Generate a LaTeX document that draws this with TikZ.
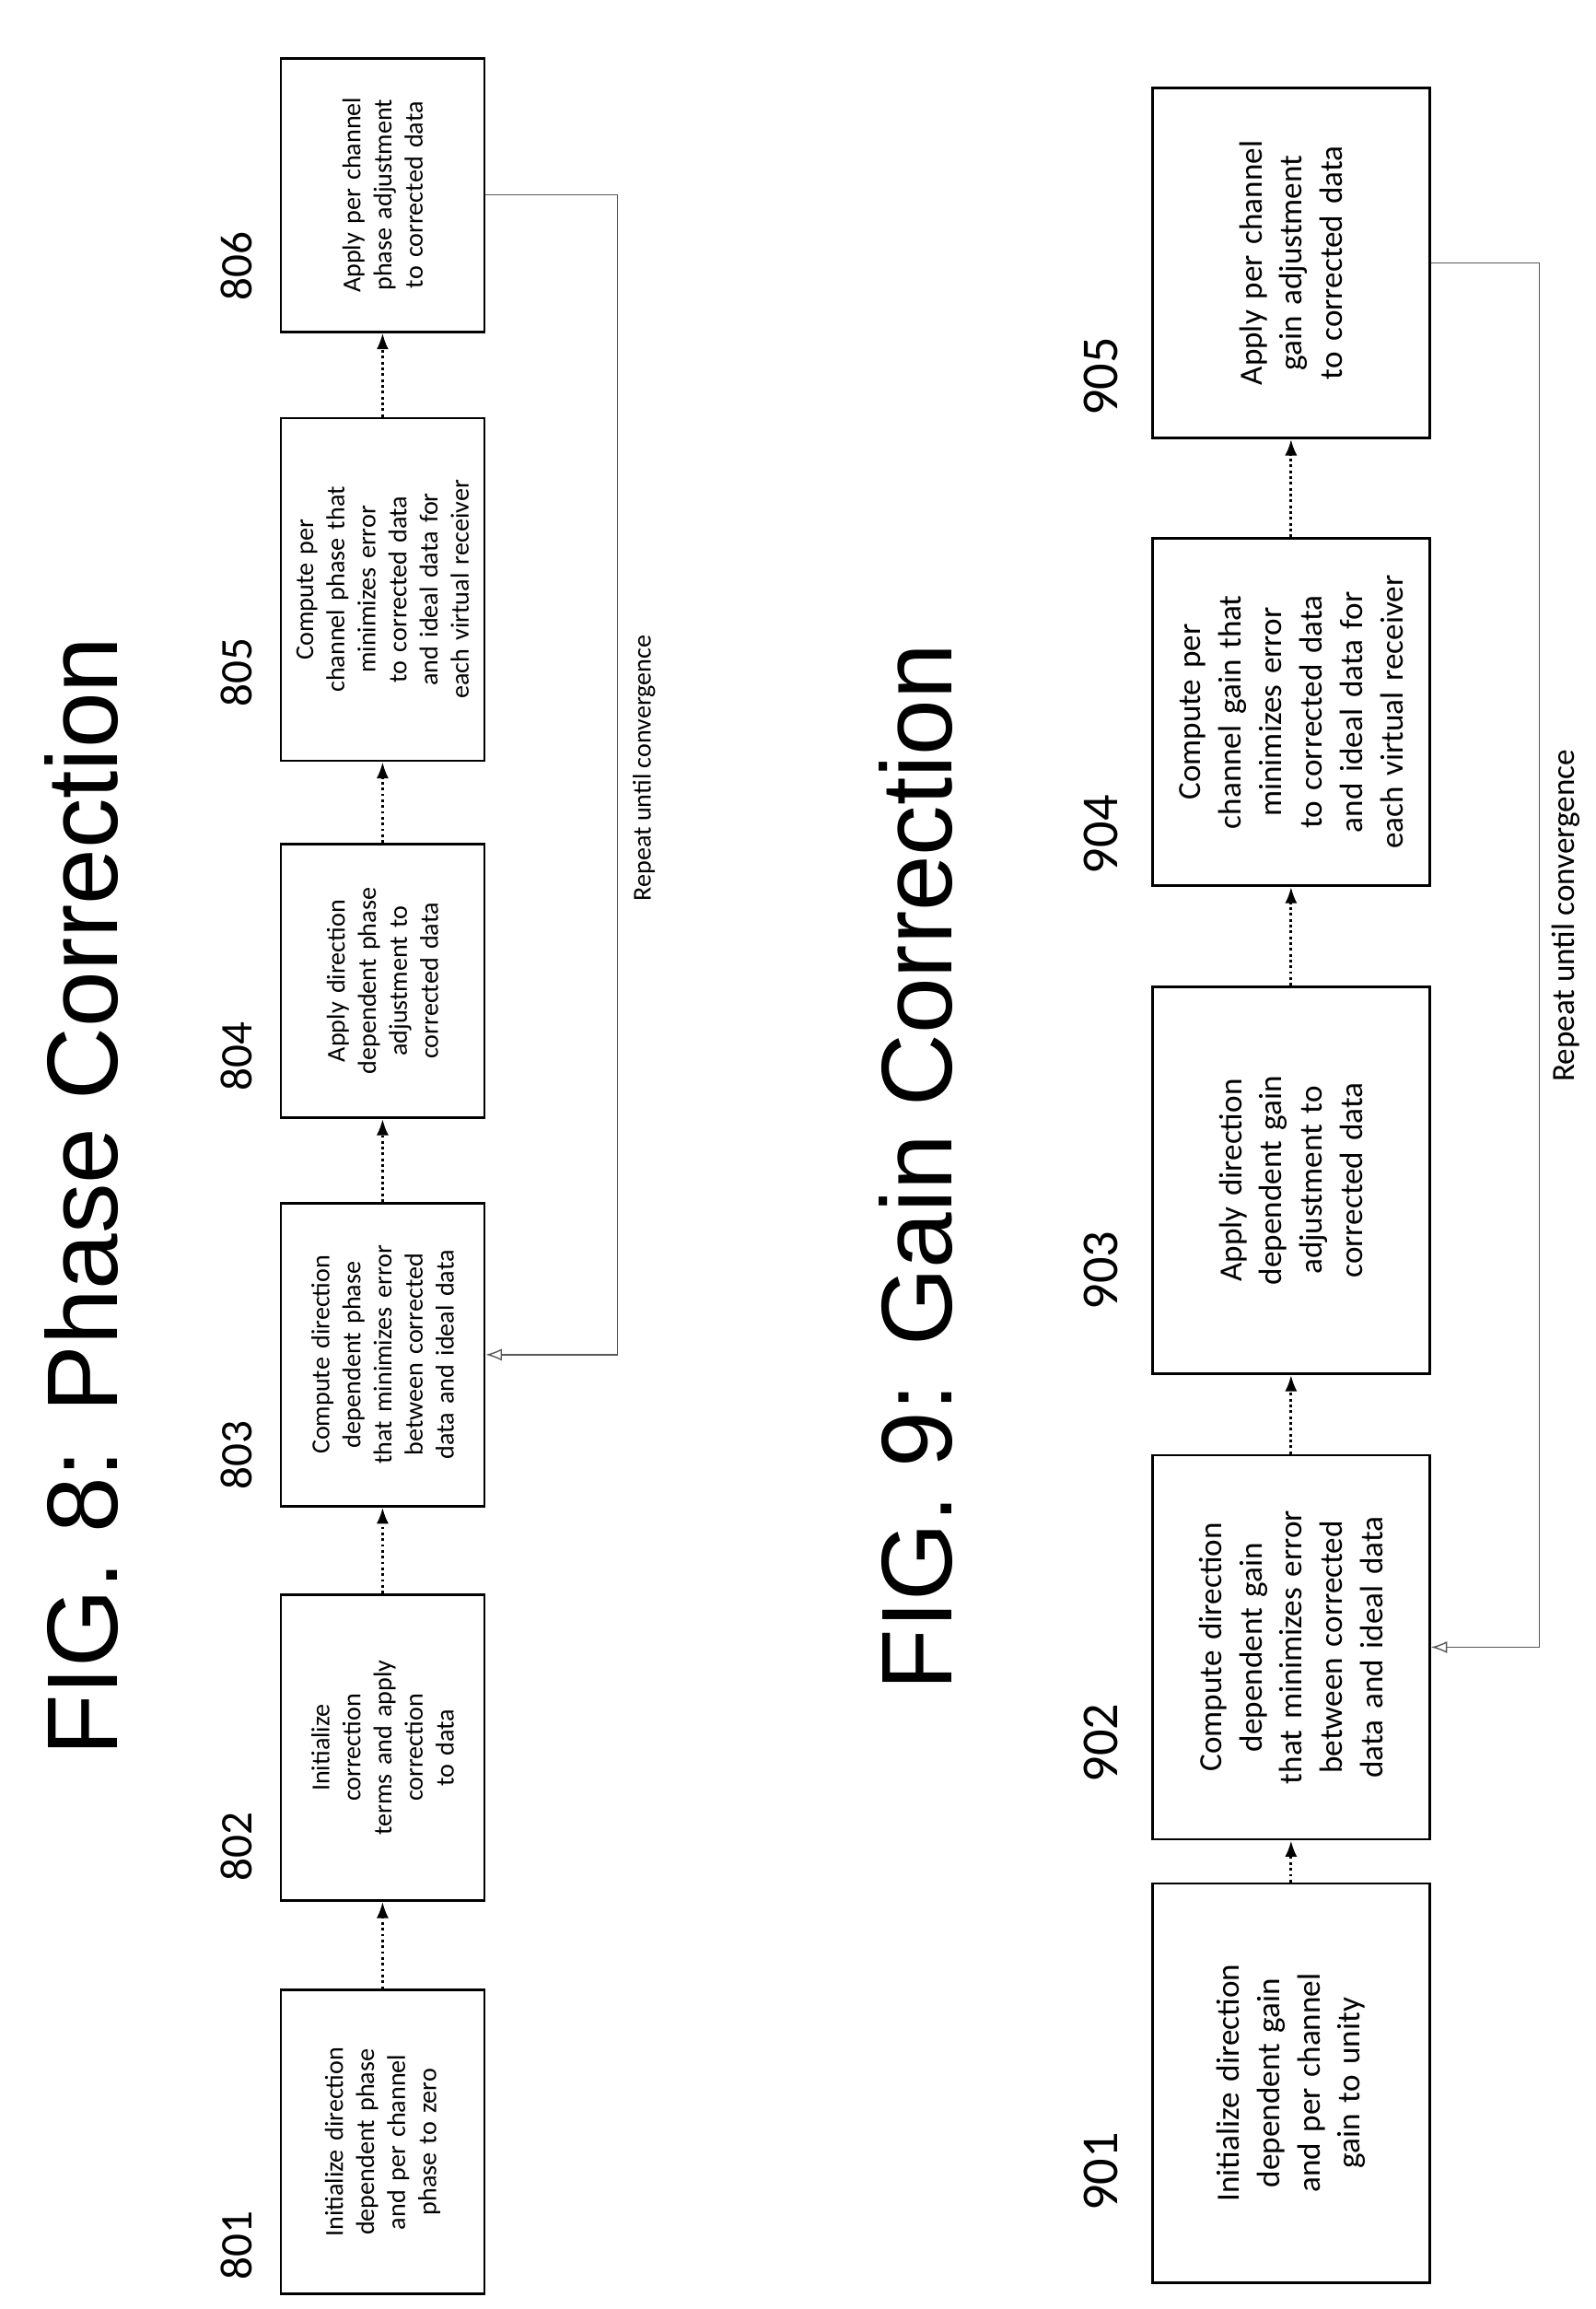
\documentclass[tikz,border=0pt]{standalone}
\usepackage{fontspec}
\setmainfont{Carlito}
\newfontfamily\titlefont{Liberation Sans}
\usetikzlibrary{arrows.meta}
\hyphenpenalty=10000
\exhyphenpenalty=10000

\tikzset{
  stepbox/.style={draw, thick, rotate=90, align=center, inner sep=4pt},
  smallstep/.style={stepbox, font=\fontsize{8}{9.6}\selectfont},
  bigstep/.style={stepbox, font=\fontsize{10}{12.5}\selectfont},
  num/.style={rotate=90, font=\fontsize{14}{16}\selectfont},
  flow/.style={-{Latex[length=5pt]}, densely dotted, thick},
  loop/.style={-{Latex[length=5pt,open]}, thin, gray!70!black},
  title/.style={rotate=90, font=\titlefont\fontsize{31}{36}\selectfont}
}

\begin{document}
\begin{tikzpicture}[x=0.01603cm, y=-0.01603cm]
  \useasboundingbox (0,0) rectangle (1080,1563);

  % FIG. 8
  \node[title] (t8) at (55,810) {FIG. 8: Phase Correction};
  \node[smallstep, minimum width=3.30cm, minimum height=2.21cm, text width=2.4cm] (b801) at (259,1450)
    {Initialize direction dependent phase and per channel phase to zero};
  \node[smallstep, minimum width=3.32cm, minimum height=2.21cm, text width=2.0cm] (b802) at (259,1183)
    {Initialize correction terms and apply correction to data};
  \node[smallstep, minimum width=3.29cm, minimum height=2.21cm, text width=2.8cm] (b803) at (259,917)
    {Compute direction dependent phase that minimizes error between corrected data and ideal data};
  \node[smallstep, minimum width=2.97cm, minimum height=2.21cm, text width=2.3cm] (b804) at (259,664)
    {Apply direction dependent phase adjustment to corrected data};
  \node[smallstep, minimum width=3.72cm, minimum height=2.21cm, text width=2.6cm] (b805) at (259,399)
    {Compute per channel phase that minimizes error to corrected data and ideal data for each virtual receiver};
  \node[smallstep, minimum width=2.97cm, minimum height=2.21cm, text width=2.2cm] (b806) at (259,132)
    {Apply per channel phase adjustment to corrected data};

  \node[num] (n801) at (160,1520) {801};
  \node[num] (n802) at (160,1250) {802};
  \node[num] (n803) at (160,985) {803};
  \node[num] (n804) at (160,715) {804};
  \node[num] (n805) at (160,455) {805};
  \node[num] (n806) at (160,180) {806};

  \draw[flow] (b801.east) -- (b802.west);
  \draw[flow] (b802.east) -- (b803.west);
  \draw[flow] (b803.east) -- (b804.west);
  \draw[flow] (b804.east) -- (b805.west);
  \draw[flow] (b805.east) -- (b806.west);

  \coordinate (r8) at (418,132);
  \draw[loop] (b806.south) -- (r8) |- (b803.south);
  \node[rotate=90, font=\fontsize{8}{10}\selectfont] (l8) at (436,520) {Repeat until convergence};

  % FIG. 9
  \node[title] (t9) at (620,790) {FIG. 9: Gain Correction};
  \node[bigstep, minimum width=4.33cm, minimum height=3.01cm, text width=2.9cm] (b901) at (874,1410)
    {Initialize direction dependent gain and per channel gain to unity};
  \node[bigstep, minimum width=4.17cm, minimum height=3.01cm, text width=3.8cm] (b902) at (874,1115)
    {Compute direction dependent gain that minimizes error between corrected data and ideal data};
  \node[bigstep, minimum width=4.20cm, minimum height=3.01cm, text width=3.0cm] (b903) at (874,799)
    {Apply direction dependent gain adjustment to corrected data};
  \node[bigstep, minimum width=3.77cm, minimum height=3.01cm, text width=3.3cm] (b904) at (874,482)
    {Compute per channel gain that minimizes error to corrected data and ideal data for each virtual receiver};
  \node[bigstep, minimum width=3.80cm, minimum height=3.01cm, text width=2.9cm] (b905) at (874,178)
    {Apply per channel gain adjustment to corrected data};

  \node[num, font=\fontsize{16}{18}\selectfont] (n901) at (745,1470) {901};
  \node[num, font=\fontsize{16}{18}\selectfont] (n902) at (745,1180) {902};
  \node[num, font=\fontsize{16}{18}\selectfont] (n903) at (745,860) {903};
  \node[num, font=\fontsize{16}{18}\selectfont] (n904) at (745,565) {904};
  \node[num, font=\fontsize{16}{18}\selectfont] (n905) at (745,255) {905};

  \draw[flow] (b901.east) -- (b902.west);
  \draw[flow] (b902.east) -- (b903.west);
  \draw[flow] (b903.east) -- (b904.west);
  \draw[flow] (b904.east) -- (b905.west);

  \coordinate (r9) at (1042,178);
  \draw[loop] (b905.south) -- (r9) |- (b902.south);
  \node[rotate=90, font=\fontsize{10}{12}\selectfont] (l9) at (1060,620) {Repeat until convergence};
\end{tikzpicture}
\end{document}
